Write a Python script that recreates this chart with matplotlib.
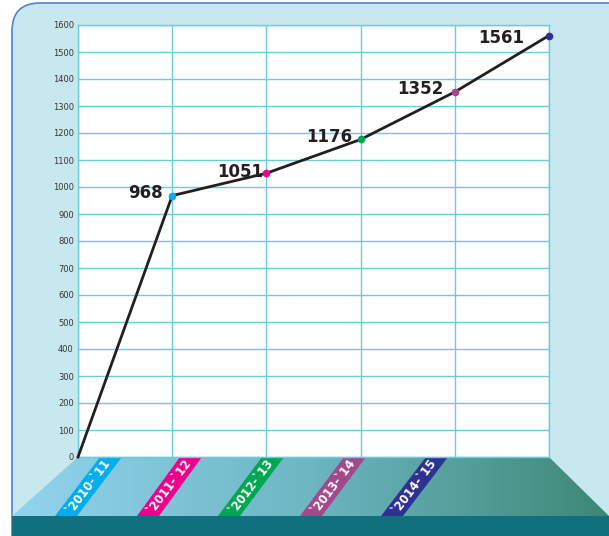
import numpy as np
import matplotlib
matplotlib.use("Agg")
import matplotlib.pyplot as plt
from matplotlib.patches import FancyBboxPatch, Polygon, Rectangle
from matplotlib.colors import LinearSegmentedColormap

# data
years = ["`2010-`11", "`2011-`12", "`2012-`13", "`2013-`14", "`2014-`15"]
values = [968, 1051, 1176, 1352, 1561]
year_colors = ["#00aeef", "#ec008c", "#00a651", "#a3498b", "#2e3192"]

W, H = 609, 536
fig = plt.figure(figsize=(W / 100, H / 100), dpi=100)

# background decoration axes in pixel coordinates
bg = fig.add_axes([0, 0, 1, 1], zorder=0)
bg.set_xlim(0, W)
bg.set_ylim(H, 0)
bg.axis("off")

panel = FancyBboxPatch((12, 3), 640, 560, boxstyle="round,pad=0,rounding_size=28",
                       fc="#c8e8f0", ec="#4f86c6", lw=1.2)
bg.add_patch(panel)

# floor (trapezoid with gradient)
floor = Polygon([(78, 457), (549, 457), (609, 516), (12, 516)], closed=True,
                fc="none", ec="none")
bg.add_patch(floor)
cmap = LinearSegmentedColormap.from_list("floor", ["#92d4ee", "#6db6c2", "#3d8776"])
grad = np.linspace(0, 1, 256).reshape(1, -1)
im = bg.imshow(grad, cmap=cmap, extent=(12, 609, 516, 457), aspect="auto", zorder=1)
im.set_clip_path(floor)
bg.set_xlim(0, W)
bg.set_ylim(H, 0)

bg.add_patch(Rectangle((12, 516), 600, 22, fc="#10707e", ec="none", zorder=2))

# ribbons with year labels
top_x = [100, 180, 262, 344, 426]
bot_x = [55, 137, 218, 300, 381]
rw = 22
for tx, bx, lab, c in zip(top_x, bot_x, years, year_colors):
    bg.add_patch(Polygon([(tx, 457), (tx + rw, 457), (bx + rw, 516), (bx, 516)],
                         closed=True, fc=c, ec="none", zorder=3))
    cx = (tx + bx) / 2 + rw / 2
    bg.text(cx, 487, lab, rotation=53, rotation_mode="anchor", ha="center",
            va="center", color="white", fontsize=8.5, fontweight="bold", zorder=4)

# main chart
ax = fig.add_axes([78 / W, (H - 457) / H, 471 / W, 432 / H], zorder=1)
ax.set_facecolor("white")
x = np.arange(len(values) + 1)
y = [0] + values
ax.plot(x, y, color="#231f20", lw=2, zorder=3, clip_on=False)
offsets = [(-7, 2), (-2, 1), (-6, 2), (-8, 2), (-18, -2)]
for xi, v, c, off in zip(x[1:], values, year_colors, offsets):
    ax.plot(xi, v, "o", ms=4.5, color=c, zorder=4, clip_on=False)
    ax.annotate(str(v), (xi, v), xytext=off, textcoords="offset points",
                ha="right", va="center", fontsize=12, fontweight="bold",
                color="#231f20")

ax.set_xlim(0, len(values))
ax.set_ylim(0, 1600)
ax.set_yticks(np.arange(0, 1601, 100))
ax.set_xticks(x)
ax.set_xticklabels([])
ax.grid(True, color="#6accd9", lw=1)
ax.set_axisbelow(True)
for s in ax.spines.values():
    s.set_color("#6accd9")
    s.set_linewidth(1)
ax.tick_params(axis="y", length=0, labelsize=6, labelcolor="#333333", pad=3)
ax.tick_params(axis="x", length=0)

fig.savefig("out.png", dpi=100)
